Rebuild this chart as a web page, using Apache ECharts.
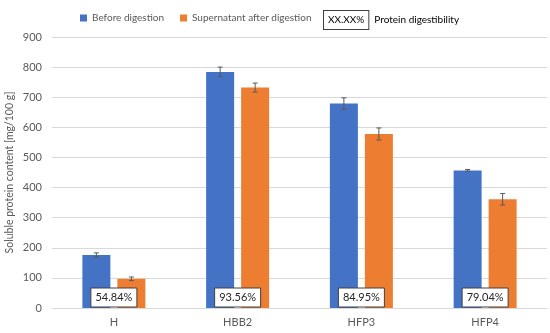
<!DOCTYPE html>
<html><head><meta charset="utf-8">
<script src="https://cdn.jsdelivr.net/npm/echarts@6/dist/echarts.min.js"></script>
<style>html,body{margin:0;padding:0;background:#fff}#c{width:550px;height:333px}</style>
</head><body><div id="c"></div>
<script>
var categories = ['H', 'HBB2', 'HFP3', 'HFP4'];
var beforeDigestion = [176, 784, 679, 457];
var beforeErr = [7, 16, 19, 3];
var supernatant = [97, 732, 578, 361];
var supernatantErr = [6, 15, 20, 19];
var digestibility = ['54.84%', '93.56%', '84.95%', '79.04%'];
var yTicks = [0, 100, 200, 300, 400, 500, 600, 700, 800, 900];

var FONT = 'Lato, "Open Sans", sans-serif';
var BAR_W = 28, GAP_PX = 7;
var offset = (BAR_W + GAP_PX) / 2;

function errorSeries(name, vals, errs, sign) {
  return {
    type: 'custom', name: name + '_err', silent: true, z: 5,
    data: vals.map(function (v, i) { return [i, v - errs[i], v + errs[i]]; }),
    renderItem: function (params, api) {
      var lo = api.coord([api.value(0), api.value(1)]);
      var hi = api.coord([api.value(0), api.value(2)]);
      var x = lo[0] + sign * offset;
      var cap = 2.5;
      var st = { stroke: '#595959', lineWidth: 1 };
      return { type: 'group', children: [
        { type: 'line', shape: { x1: x, y1: lo[1], x2: x, y2: hi[1] }, style: st },
        { type: 'line', shape: { x1: x - cap, y1: lo[1], x2: x + cap, y2: lo[1] }, style: st },
        { type: 'line', shape: { x1: x - cap, y1: hi[1], x2: x + cap, y2: hi[1] }, style: st }
      ]};
    }
  };
}

var chart = echarts.init(document.getElementById('c'));
chart.setOption({
  animation: false,
  textStyle: { fontFamily: FONT },
  legend: [{
    top: 8, left: 75,
    itemWidth: 7, itemHeight: 7, itemGap: 16,
    data: [
      { name: 'Before digestion', icon: 'rect' },
      { name: 'Supernatant after digestion', icon: 'rect' }
    ],
    textStyle: { fontSize: 10, color: '#595959', fontFamily: FONT },
    selectedMode: false
  }, {
    top: 5, left: 314,
    itemWidth: 0, itemHeight: 7, itemGap: 0,
    data: [{ name: 'Protein digestibility', icon: 'none' }],
    formatter: function () { return '{box|XX.XX%}{lab|Protein digestibility}'; },
    textStyle: {
      fontSize: 10, color: '#000', fontFamily: FONT,
      rich: {
        box: { fontSize: 10, color: '#000', borderColor: '#404040', borderWidth: 1,
               padding: [4, 4, 4, 4], backgroundColor: '#fff', fontFamily: FONT },
        lab: { fontSize: 10, color: '#000', padding: [0, 0, 0, 6], fontFamily: FONT }
      }
    },
    selectedMode: false
  }],
  grid: { left: 52, right: 3, top: 37, bottom: 25, outerBoundsMode: 'none', containLabel: false },
  xAxis: {
    type: 'category', data: categories,
    axisLine: { lineStyle: { color: '#d9d9d9' } },
    axisTick: { show: false },
    axisLabel: { color: '#595959', fontSize: 11, margin: 9, fontFamily: FONT }
  },
  yAxis: {
    type: 'value', min: yTicks[0], max: yTicks[yTicks.length - 1], interval: 100,
    name: 'Soluble protein content [mg/100 g]',
    nameLocation: 'middle', nameGap: 37, nameRotate: 90, nameMoveOverlap: false,
    nameTextStyle: { color: '#595959', fontSize: 10.5, fontFamily: FONT },
    axisLine: { show: false }, axisTick: { show: false },
    axisLabel: { color: '#595959', fontSize: 11, margin: 10, fontFamily: FONT },
    splitLine: { lineStyle: { color: '#d9d9d9' } }
  },
  series: [
    { name: 'Before digestion', type: 'bar', data: beforeDigestion, barWidth: BAR_W,
      barGap: (GAP_PX / BAR_W * 100) + '%', itemStyle: { color: '#4472C4' } },
    { name: 'Supernatant after digestion', type: 'bar', data: supernatant, barWidth: BAR_W,
      itemStyle: { color: '#ED7D31' } },
    errorSeries('Before digestion', beforeDigestion, beforeErr, -1),
    errorSeries('Supernatant after digestion', supernatant, supernatantErr, 1),
    {
      name: 'Protein digestibility', type: 'custom', z: 10,
      itemStyle: { color: '#fff', borderColor: '#404040' },
      data: digestibility.map(function (d, i) { return [i, 0, d]; }),
      renderItem: function (params, api) {
        var p = api.coord([api.value(0), 0]);
        var w = 46, h = 19;
        var txt = digestibility[params.dataIndex];
        return { type: 'group', children: [
          { type: 'rect', shape: { x: p[0] - w / 2, y: p[1] - h - 1, width: w, height: h },
            style: { fill: '#fff', stroke: '#404040', lineWidth: 1 } },
          { type: 'text', style: { text: txt, x: p[0], y: p[1] - h / 2 - 1,
            textAlign: 'center', textVerticalAlign: 'middle',
            fill: '#262626', font: '11px ' + FONT } }
        ]};
      }
    }
  ]
});
</script></body></html>
